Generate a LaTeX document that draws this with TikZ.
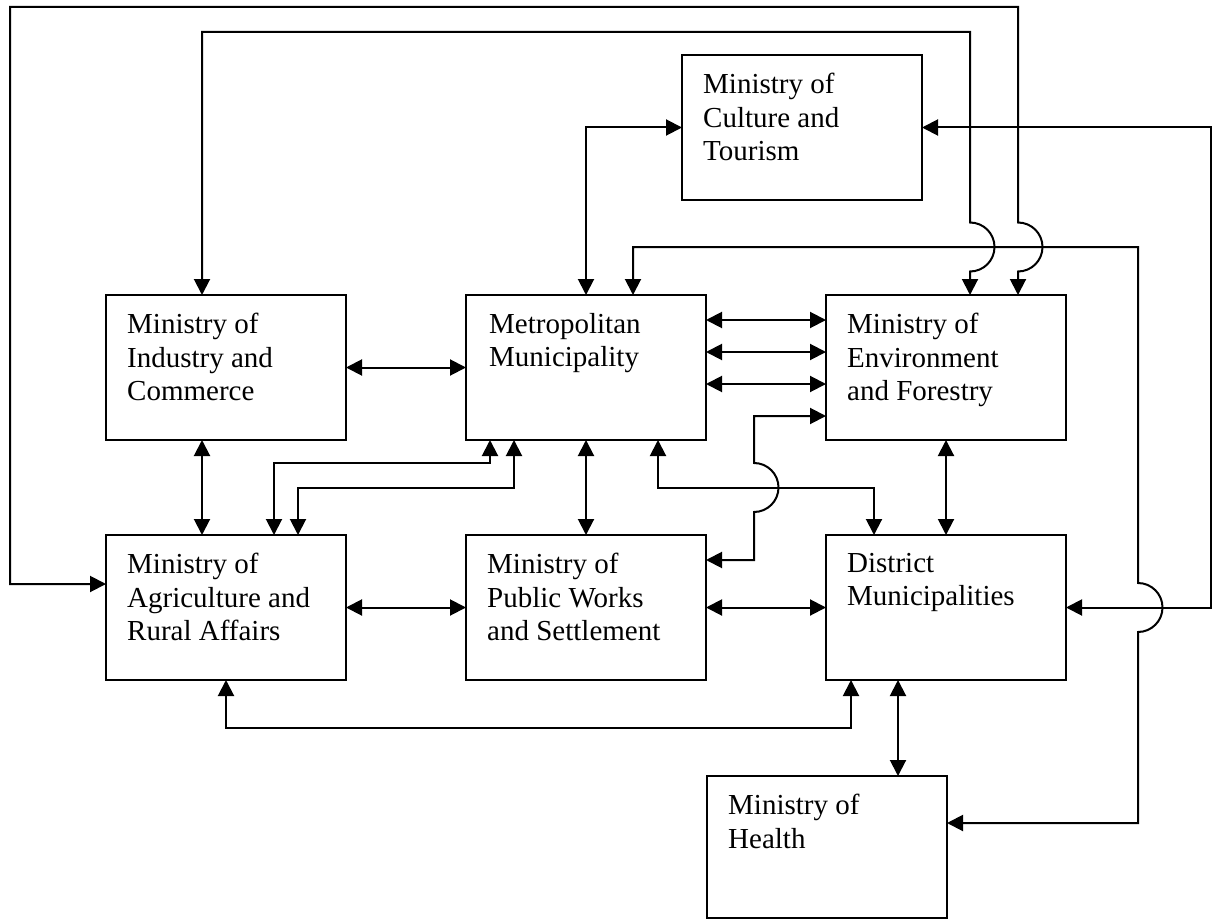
\documentclass[tikz,border=0pt]{standalone}
\usepackage{fontspec}
\setmainfont{Liberation Serif}
\usetikzlibrary{arrows.meta,calc}

\tikzset{
  box/.style={draw, line width=2pt, minimum width=240pt, minimum height=145pt,
    inner sep=0pt, outer sep=0pt, anchor=north west},
  boxtext/.style={anchor=north west, inner sep=0pt, align=left,
    font=\fontsize{29}{33.5}\selectfont},
  link/.style={line width=2pt, {Triangle[length=16pt,width=16pt]}-{Triangle[length=16pt,width=16pt]}},
  hop/.style={radius=24.5}
}

\begin{document}
\begin{tikzpicture}[x=1pt, y=-1pt]
\useasboundingbox (0,0) rectangle (1215,920);

% ministries and municipalities
\node[box] (cul) at (682,55) {};
\node[box] (ind) at (106,295) {};
\node[box] (met) at (466,295) {};
\node[box] (env) at (826,295) {};
\node[box] (agr) at (106,535) {};
\node[box] (pw)  at (466,535) {};
\node[box] (dis) at (826,535) {};
\node[box, minimum height=142pt] (hl) at (707,776) {};

\node[boxtext] (cul-t) at ($(cul.north west)+(21,18)$) {Ministry of\\Culture and\\Tourism};
\node[boxtext] (ind-t) at ($(ind.north west)+(21,18)$) {Ministry of\\Industry and\\Commerce};
\node[boxtext] (met-t) at ($(met.north west)+(23,18)$) {Metropolitan\\Municipality};
\node[boxtext] (env-t) at ($(env.north west)+(21,18)$) {Ministry of\\Environment\\and Forestry};
\node[boxtext] (agr-t) at ($(agr.north west)+(21,18)$) {Ministry of\\Agriculture and\\Rural Affairs};
\node[boxtext] (pw-t)  at ($(pw.north west)+(21,18)$) {Ministry of\\Public Works\\and Settlement};
\node[boxtext] (dis-t) at ($(dis.north west)+(21,18)$) {District\\Municipalities};
\node[boxtext] (hl-t)  at ($(hl.north west)+(21,18)$) {Ministry of\\Health};

% outer loop: agriculture -- environment
\draw[link] (agr.west |- 0,584) -- (10,584) -- (10,7) -- (1018,7) -- (1018,222.5)
  arc[start angle=-90, end angle=90, hop] -- (env.north -| 1018,0);
% industry -- environment
\draw[link] (ind.north -| 202,0) -- (202,32) -- (970,32) -- (970,222.5)
  arc[start angle=-90, end angle=90, hop] -- (env.north -| 970,0);
% culture -- district
\draw[link] (cul.east) -- (cul.east -| 1211,0) -- (dis.east -| 1211,0) -- (dis.east);
% metropolitan -- health
\draw[link] (met.north -| 633,0) -- (633,247) -- (1138,247) -- (1138,583)
  arc[start angle=-90, end angle=90, hop] -- (1138,823) -- (hl.east |- 0,823);
% metropolitan -- culture
\draw[link] (met.north) -- (met.north |- cul.west) -- (cul.west);

% middle row
\draw[link] (ind.east) -- (met.west);
\draw[link] (met.east |- 0,320) -- (env.west |- 0,320);
\draw[link] (met.east |- 0,352) -- (env.west |- 0,352);
\draw[link] (met.east |- 0,384) -- (env.west |- 0,384);

% public works -- environment
\draw[link] (pw.east |- 0,560) -- (754,560) -- (754,512)
  arc[start angle=90, end angle=-90, hop] -- (754,416) -- (env.west |- 0,416);
% metropolitan -- district
\draw[link] (met.south -| 658,0) -- (658,488) -- (874,488) -- (dis.north -| 874,0);

% verticals between rows
\draw[link] (met.south) -- (pw.north);
\draw[link] (env.south) -- (dis.north);
\draw[link] (ind.south -| 202,0) -- (agr.north -| 202,0);
\draw[link] (met.south -| 490,0) -- (490,463) -- (274,463) -- (agr.north -| 274,0);
\draw[link] (met.south -| 514,0) -- (514,488) -- (298,488) -- (agr.north -| 298,0);

% bottom row
\draw[link] (agr.east) -- (pw.west);
\draw[link] (pw.east) -- (dis.west);
\draw[link] (agr.south) -- (agr.south |- 0,728) -- (851,728) -- (dis.south -| 851,0);
\draw[link] (dis.south -| 898,0) -- (hl.north -| 898,0);
\end{tikzpicture}
\end{document}
